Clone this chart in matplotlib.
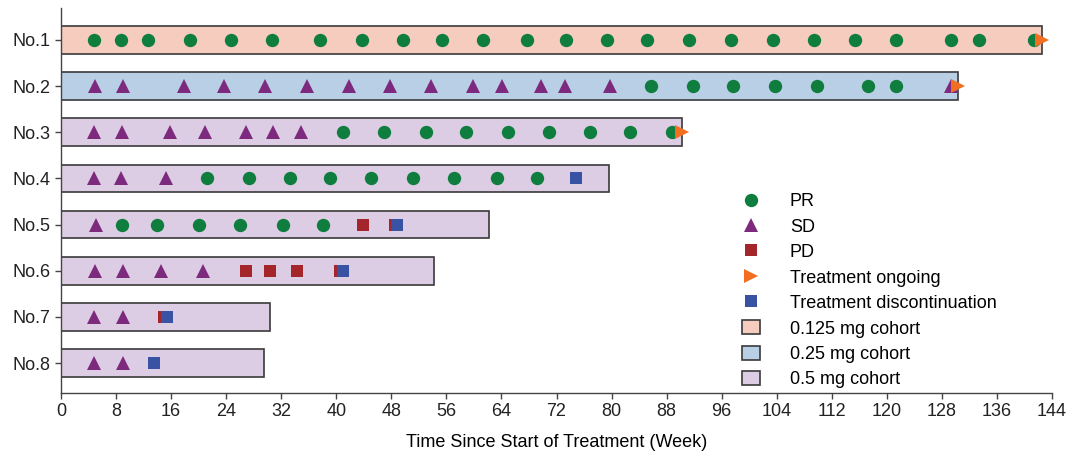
import matplotlib
matplotlib.use("Agg")
import matplotlib.pyplot as plt
from matplotlib.lines import Line2D
from matplotlib.patches import Patch

plt.rcParams['font.family'] = ['Liberation Sans', 'DejaVu Sans']
plt.rcParams['font.size'] = 13

patients = ['No.1', 'No.2', 'No.3', 'No.4', 'No.5', 'No.6', 'No.7', 'No.8']
cohorts = ['0.125 mg', '0.25 mg', '0.5 mg', '0.5 mg', '0.5 mg', '0.5 mg', '0.5 mg', '0.5 mg']
durations = [142.6, 130.4, 90.3, 79.6, 62.2, 54.2, 30.3, 29.5]
ongoing = [True, True, True, False, False, False, False, False]

pr_weeks = [
    [4.8, 8.7, 12.7, 18.7, 24.7, 30.7, 37.7, 43.7, 49.7, 55.3, 61.3, 67.7, 73.4, 79.4,
     85.2, 91.2, 97.4, 103.4, 109.4, 115.4, 121.4, 129.3, 133.4, 141.4],
    [85.8, 91.8, 97.7, 103.8, 109.8, 117.2, 121.4],
    [40.9, 46.9, 53.0, 58.9, 64.9, 70.9, 76.8, 82.7, 88.8],
    [21.2, 27.3, 33.3, 39.1, 45.1, 51.1, 57.1, 63.4, 69.1],
    [8.8, 14.0, 20.0, 26.0, 32.3, 38.0],
    [], [], [],
]
sd_weeks = [
    [],
    [5.0, 9.0, 17.9, 23.7, 29.7, 35.7, 41.8, 47.8, 53.8, 59.9, 64.1, 69.8, 73.2, 79.8, 129.3],
    [4.8, 8.8, 15.8, 20.9, 26.9, 30.8, 34.8],
    [4.8, 8.7, 15.2],
    [5.1],
    [4.9, 9.0, 14.5, 20.7],
    [4.8, 9.0],
    [4.8, 9.0],
]
pd_weeks = [[], [], [], [], [43.9, 48.6], [26.9, 30.4, 34.3, 40.5], [14.9], []]
disc_weeks = [[], [], [], [74.8], [48.8], [40.9], [15.4], [13.5]]

cohort_colors = {'0.125 mg': '#f6ccbf', '0.25 mg': '#b9cfe6', '0.5 mg': '#dccde4'}
c_pr = '#0e7d3e'
c_sd = '#7d2a7e'
c_pd = '#a5262a'
c_on = '#f26f21'
c_disc = '#3953a4'
edge = '#3a3a3a'

fig = plt.figure(figsize=(10.73, 4.58), dpi=100)
ax = fig.add_axes([0.0569, 0.1419, 0.9235, 0.8406])

ypos = list(range(1, len(patients) + 1))
ax.barh(ypos, durations, left=0, height=0.6,
        color=[cohort_colors[c] for c in cohorts], edgecolor=edge, linewidth=1.2, zorder=1)

for y, pr, sd, pdw, dc, dur, og in zip(ypos, pr_weeks, sd_weeks, pd_weeks, disc_weeks, durations, ongoing):
    ax.plot(pr, [y] * len(pr), 'o', color=c_pr, ms=9.6, mew=0, zorder=3)
    ax.plot(sd, [y] * len(sd), '^', color=c_sd, ms=9.8, mew=0, zorder=3)
    ax.plot(pdw, [y] * len(pdw), 's', color=c_pd, ms=9.2, mew=0, zorder=3)
    ax.plot(dc, [y] * len(dc), 's', color=c_disc, ms=9.2, mew=0, zorder=4)
    if og:
        ax.plot([dur], [y], '>', color=c_on, ms=10, mew=0, zorder=5)

ax.set_xlim(0, 144)
ax.set_ylim(8.65, 0.31)
ax.set_xticks(range(0, 145, 8))
ax.set_yticks(ypos)
ax.set_yticklabels(patients)
ax.set_xlabel("Time Since Start of Treatment (Week)", labelpad=10)
ax.spines['top'].set_visible(False)
ax.spines['right'].set_visible(False)
for s in ['left', 'bottom']:
    ax.spines[s].set_color('#444444')
    ax.spines[s].set_linewidth(1.0)
ax.tick_params(direction='out', length=4, width=1.0, color='#444444', labelcolor='#222222')

handles = [
    Line2D([], [], ls='none', marker='o', color=c_pr, ms=9.6, mew=0, label='PR'),
    Line2D([], [], ls='none', marker='^', color=c_sd, ms=9.8, mew=0, label='SD'),
    Line2D([], [], ls='none', marker='s', color=c_pd, ms=9.2, mew=0, label='PD'),
    Line2D([], [], ls='none', marker='>', color=c_on, ms=10, mew=0, label='Treatment ongoing'),
    Line2D([], [], ls='none', marker='s', color=c_disc, ms=9.2, mew=0, label='Treatment discontinuation'),
    Patch(facecolor=cohort_colors['0.125 mg'], edgecolor=edge, linewidth=1.2, label='0.125 mg cohort'),
    Patch(facecolor=cohort_colors['0.25 mg'], edgecolor=edge, linewidth=1.2, label='0.25 mg cohort'),
    Patch(facecolor=cohort_colors['0.5 mg'], edgecolor=edge, linewidth=1.2, label='0.5 mg cohort'),
]
fig.legend(handles=handles, loc='upper left', bbox_to_anchor=(0.6835, 0.5985),
           frameon=False, handlelength=1.0, handleheight=0.8, handletextpad=1.63,
           labelspacing=0.46, borderpad=0, fontsize=13)

fig.savefig('out.png', dpi=100)
